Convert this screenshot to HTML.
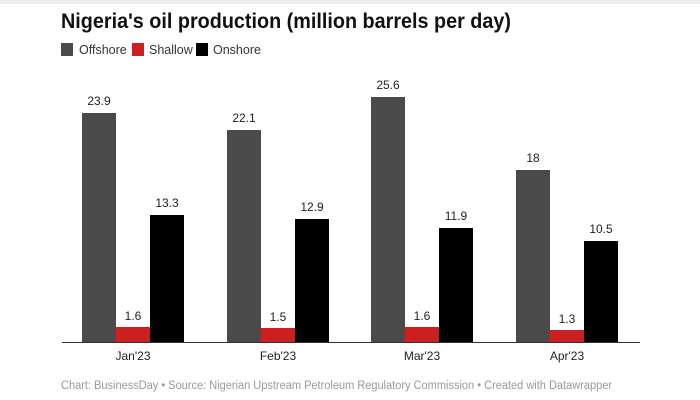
<!DOCTYPE html>
<html><head><meta charset="utf-8"><style>
body{margin:0;background:#fff;}
svg{display:block;font-family:"Liberation Sans",sans-serif;}
</style></head><body>
<svg width="700" height="400" viewBox="0 0 700 400">
<rect x="0" y="0" width="700" height="4" fill="#eeeeee"/>
<text x="61" y="28" font-size="21.5" font-weight="bold" fill="#111" textLength="450" lengthAdjust="spacingAndGlyphs">Nigeria's oil production (million barrels per day)</text>
<rect x="61" y="43" width="12" height="13" fill="#4a4a4a"/>
<text x="79" y="54" font-size="12.5" fill="#333">Offshore</text>
<rect x="132" y="43" width="12" height="13" fill="#cc1f1f"/>
<text x="149" y="54" font-size="12.5" fill="#333">Shallow</text>
<rect x="196" y="43" width="12" height="13" fill="#000"/>
<text x="213" y="54" font-size="12.5" fill="#333">Onshore</text>
<g font-size="12" fill="#222" text-anchor="middle">
<rect x="82" y="113" width="34" height="229" fill="#4a4a4a"/><text x="99" y="105">23.9</text>
<rect x="116" y="327" width="34" height="15" fill="#cc1f1f"/><text x="133" y="320">1.6</text>
<rect x="150" y="215" width="34" height="127" fill="#000"/><text x="167" y="207">13.3</text>
<text x="133" y="360">Jan'23</text>
<rect x="227" y="130" width="34" height="212" fill="#4a4a4a"/><text x="244" y="122">22.1</text>
<rect x="261" y="328" width="34" height="14" fill="#cc1f1f"/><text x="278" y="321">1.5</text>
<rect x="295" y="219" width="34" height="123" fill="#000"/><text x="312" y="211">12.9</text>
<text x="278" y="360">Feb'23</text>
<rect x="371" y="97" width="34" height="245" fill="#4a4a4a"/><text x="388" y="89">25.6</text>
<rect x="405" y="327" width="34" height="15" fill="#cc1f1f"/><text x="422" y="320">1.6</text>
<rect x="439" y="228" width="34" height="114" fill="#000"/><text x="456" y="220">11.9</text>
<text x="422" y="360">Mar'23</text>
<rect x="516" y="170" width="34" height="172" fill="#4a4a4a"/><text x="533" y="162">18</text>
<rect x="550" y="330" width="34" height="12" fill="#cc1f1f"/><text x="567" y="323">1.3</text>
<rect x="584" y="241" width="34" height="101" fill="#000"/><text x="601" y="233">10.5</text>
<text x="567" y="360">Apr'23</text>
</g>
<line x1="62" y1="342.5" x2="640" y2="342.5" stroke="#333" stroke-width="1"/>
<text x="61" y="389" font-size="11.5" fill="#999" textLength="551" lengthAdjust="spacingAndGlyphs">Chart: BusinessDay • Source: Nigerian Upstream Petroleum Regulatory Commission • Created with Datawrapper</text>
</svg>
</body></html>
